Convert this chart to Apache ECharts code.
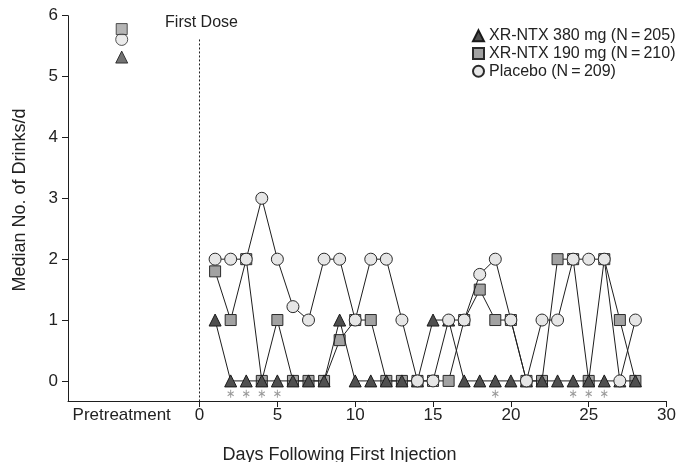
<!DOCTYPE html>
<html>
<head>
<meta charset="utf-8">
<script src="https://cdn.jsdelivr.net/npm/echarts@6/dist/echarts.min.js"></script>
<style>html,body{margin:0;padding:0;background:#fff}#c{width:679px;height:462px}</style>
</head>
<body>
<div id="c"></div>
<script>
// ---- data ----
const days = [1,2,3,4,5,6,7,8,9,10,11,12,13,14,15,16,17,18,19,20,21,22,23,24,25,26,27,28];
const xr380 = [1,0,0,0,0,0,0,0,1,0,0,0,0,0,1,1,0,0,0,0,0,0,0,0,0,0,0,0];
const xr190 = [1.8,1,2,0,1,0,0,0,0.67,1,1,0,0,0,0,0,1,1.5,1,1,0,0,2,2,0,2,1,0];
const placebo = [2,2,2,3,2,1.22,1,2,2,1,2,2,1,0,0,1,1,1.75,2,1,0,1,1,2,2,2,0,1];
const pretreatX = -5;
const pretreat380 = 5.32;
const pretreat190 = 5.78;
const pretreatPlacebo = 5.61;
const asteriskDays = [2,3,4,5,19,24,25,26];
const asteriskY = -0.21;
const xTicks = [0,5,10,15,20,25,30];
const xLabels = [-5,0,5,10,15,20,25,30];
const yTicks = [0,1,2,3,4,5,6];
const names = ['XR-NTX 380 mg (N\u2009=\u2009205)','XR-NTX 190 mg (N\u2009=\u2009210)','Placebo (N\u2009=\u2009209)'];

const pairs = (arr) => days.map((d,i) => [d, arr[i]]);
const font = 'Liberation Sans, Arial, Helvetica, sans-serif';
const styles = {
  tri: {color:'#4f4f4f', borderColor:'#1a1a1a', borderWidth:1},
  sq:  {color:'#a2a2a2', borderColor:'#2a2a2a', borderWidth:1},
  ci:  {color:'#e6e6e6', borderColor:'#2a2a2a', borderWidth:1}
};
const lineStyle = {color:'#1e1e1e', width:1};

const chart = echarts.init(document.getElementById('c'), null, {renderer:'canvas'});
chart.setOption({
  animation:false,
  backgroundColor:'#fff',
  grid:{left:68, right:10, top:15.7, bottom:61},
  legend:{
    orient:'vertical', left:467, top:22, itemWidth:11, itemHeight:11, itemGap:0,
    textStyle:{fontFamily:font, fontSize:16, color:'#222', lineHeight:17.7},
    data:[{name:names[0], icon:'triangle'},{name:names[1], icon:'rect'},{name:names[2], icon:'circle'}]
  },
  xAxis:{
    type:'value', min:-8.45, max:30,
    axisLine:{onZero:false, lineStyle:{color:'#1e1e1e', width:1}},
    axisTick:{customValues:xTicks, length:6, lineStyle:{color:'#1e1e1e'}},
    axisLabel:{customValues:xLabels, margin:6, fontFamily:font, fontSize:17, color:'#222',
      formatter:(v)=> v === pretreatX ? 'Pretreatment' : String(v)},
    splitLine:{show:false}
  },
  yAxis:{
    type:'value', min:-0.33, max:6,
    axisLine:{show:true, onZero:false, lineStyle:{color:'#1e1e1e', width:1}},
    axisTick:{show:true, customValues:yTicks, length:6, lineStyle:{color:'#1e1e1e'}},
    axisLabel:{customValues:yTicks, margin:10, fontFamily:font, fontSize:17, color:'#222'},
    splitLine:{show:false}
  },
  graphic:[
    {type:'text', left:'center', x:0, style:{text:'Days Following First Injection', x:419, y:455, fontFamily:font, fontSize:18, fill:'#222', align:'center', verticalAlign:'middle'}},
    {type:'text', style:{text:'First Dose', x:201.5, y:23, fontFamily:font, fontSize:16, fill:'#222', align:'center', verticalAlign:'middle'}},
    {type:'text', rotation:Math.PI/2, x:20, y:200, style:{text:'Median No. of Drinks/d', x:0, y:0, fontFamily:font, fontSize:18, fill:'#222', align:'center', verticalAlign:'middle'}}
  ],
  series:[
    {name:names[1], type:'line', data:pairs(xr190), symbol:'rect', symbolSize:11, showAllSymbol:true,
      lineStyle:lineStyle, itemStyle:styles.sq, z:2,
      markLine:{silent:true, symbol:'none', label:{show:false},
        lineStyle:{type:[2,2], color:'#222', width:1},
        data:[[{coord:[0,5.61]},{coord:[0,-0.33]}]]}},
    {name:names[0], type:'line', data:pairs(xr380), symbol:'triangle', symbolSize:12, showAllSymbol:true,
      lineStyle:lineStyle, itemStyle:styles.tri, z:3},
    {name:names[2], type:'line', data:pairs(placebo), symbol:'circle', symbolSize:12, showAllSymbol:true,
      lineStyle:lineStyle, itemStyle:styles.ci, z:4},
    {name:names[2], type:'scatter', data:[[pretreatX, pretreatPlacebo]], symbol:'circle', symbolSize:12, itemStyle:styles.ci, z:4},
    {name:names[1], type:'scatter', data:[[pretreatX, pretreat190]], symbol:'rect', symbolSize:11, itemStyle:styles.sq, z:5},
    {name:names[0], type:'scatter', data:[[pretreatX, pretreat380]], symbol:'triangle', symbolSize:12, itemStyle:styles.tri, z:3},
    {name:'sig', type:'scatter', data:asteriskDays.map(d=>[d, asteriskY]),
      symbol:'path://M0,-1L0,1M-0.866,-0.5L0.866,0.5M-0.866,0.5L0.866,-0.5', symbolSize:[7,8], symbolKeepAspect:true,
      itemStyle:{color:'none', borderColor:'#808080', borderWidth:1}, z:2, silent:true}
  ]
});
</script>
</body>
</html>
